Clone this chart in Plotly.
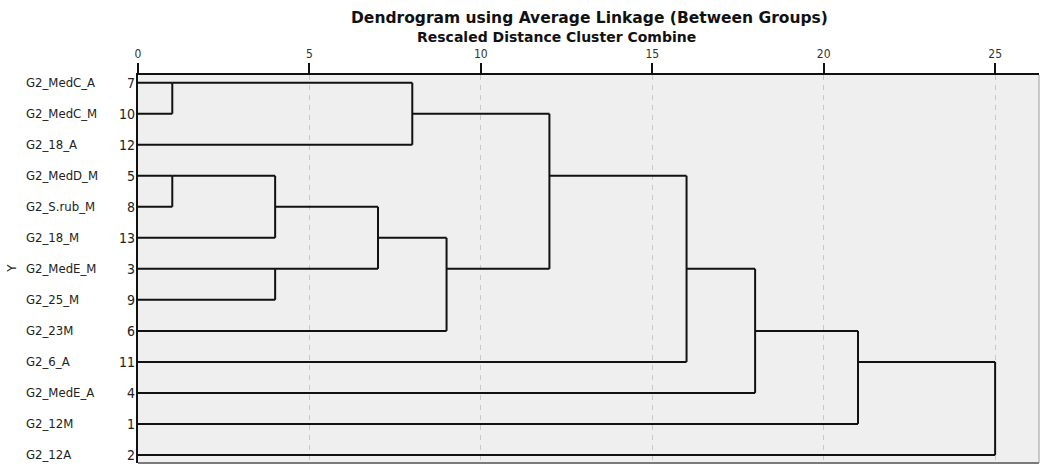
import plotly.graph_objects as go

# Leaves in dendrogram order (top to bottom) and their case numbers
leaf_labels = ["G2_MedC_A", "G2_MedC_M", "G2_18_A", "G2_MedD_M", "G2_S.rub_M",
               "G2_18_M", "G2_MedE_M", "G2_25_M", "G2_23M", "G2_6_A",
               "G2_MedE_A", "G2_12M", "G2_12A"]
case_numbers = [7, 10, 12, 5, 8, 13, 3, 9, 6, 11, 4, 1, 2]

# Agglomeration schedule: clusters combined (by case number) and rescaled distance
merge_first = [7, 5, 5, 3, 5, 7, 5, 7, 7, 7, 7, 7]
merge_second = [10, 8, 13, 9, 3, 12, 6, 5, 11, 4, 1, 2]
merge_distance = [1, 1, 4, 4, 7, 8, 9, 12, 16, 18, 21, 25]

distance_ticks = [0, 5, 10, 15, 20, 25]

W, H = 1040, 470
ML, MR, MT, MB = 138, 1, 75, 7
plot_w = W - ML - MR
plot_h = H - MT - MB

# Build the bracket segments
pos = {c: (i + 1, 0.0) for i, c in enumerate(case_numbers)}
xs, ys = [], []
for a, b, d in zip(merge_first, merge_second, merge_distance):
    ya, xa = pos[a]
    yb, xb = pos[b]
    xs += [xa, d, None, xb, d, None, d, d, None]
    ys += [ya, ya, None, yb, yb, None, ya, yb, None]
    pos[a] = ((ya + yb) // 2, d)
    del pos[b]

fig = go.Figure()
fig.add_trace(go.Scatter(x=xs, y=ys, mode="lines",
                         line=dict(color="#111111", width=2),
                         hoverinfo="skip", showlegend=False))

label_font = dict(family="DejaVu Sans Condensed, Liberation Sans", size=13, color="#222222")
num_font = dict(family="DejaVu Sans Condensed, Liberation Sans", size=14, color="#222222")
annotations = []
for i, (lab, num) in enumerate(zip(leaf_labels, case_numbers)):
    annotations.append(dict(x=(24 - ML) / plot_w, xref="paper", y=i + 1, yref="y",
                            text=lab, showarrow=False, xanchor="left", yanchor="middle",
                            font=label_font))
    annotations.append(dict(x=(137 - ML) / plot_w, xref="paper", y=i + 1, yref="y",
                            text=str(num), showarrow=False, xanchor="right", yanchor="middle",
                            font=num_font))

annotations.append(dict(x=(12 - ML) / plot_w, xref="paper", y=7, yref="y", text="Y",
                        textangle=-90, showarrow=False, xanchor="center", yanchor="middle",
                        font=label_font))
annotations.append(dict(x=(589.5 - ML) / plot_w, xref="paper", y=(H - MB - 18) / plot_h,
                        yref="paper", text="<b>Dendrogram using Average Linkage (Between Groups)</b>",
                        showarrow=False, xanchor="center", yanchor="middle",
                        font=dict(family="DejaVu Sans", size=15.5, color="#111111")))
annotations.append(dict(x=(556 - ML) / plot_w, xref="paper", y=(H - MB - 37) / plot_h,
                        yref="paper", text="<b>Rescaled Distance Cluster Combine</b>",
                        showarrow=False, xanchor="center", yanchor="middle",
                        font=dict(family="DejaVu Sans", size=14, color="#111111")))

fig.update_layout(
    width=W, height=H,
    margin=dict(l=ML, r=MR, t=MT, b=MB),
    paper_bgcolor="white", plot_bgcolor="#efefef",
    annotations=annotations,
    shapes=[
        dict(type="line", xref="paper", yref="paper", x0=0, x1=1, y0=0, y1=0,
             line=dict(color="#7a7a7a", width=2)),
        dict(type="line", xref="paper", yref="paper", x0=1, x1=1, y0=0, y1=1,
             line=dict(color="#9a9a9a", width=1)),
    ],
)
fig.update_xaxes(side="top", range=[0, 26.28], tickvals=distance_ticks,
                 ticks="outside", ticklen=10, tickwidth=1.5, tickcolor="#111111",
                 showline=True, linecolor="#111111", linewidth=2,
                 showgrid=True, gridcolor="#c8c8c8", gridwidth=1, griddash="5px,5px",
                 zeroline=False,
                 tickfont=dict(family="DejaVu Sans Condensed, Liberation Sans", size=12, color="#333333"))
fig.update_yaxes(range=[13.26, 0.75], showticklabels=False, showgrid=False,
                 zeroline=False, showline=True, linecolor="#111111", linewidth=2)

fig.write_html("out.html")
